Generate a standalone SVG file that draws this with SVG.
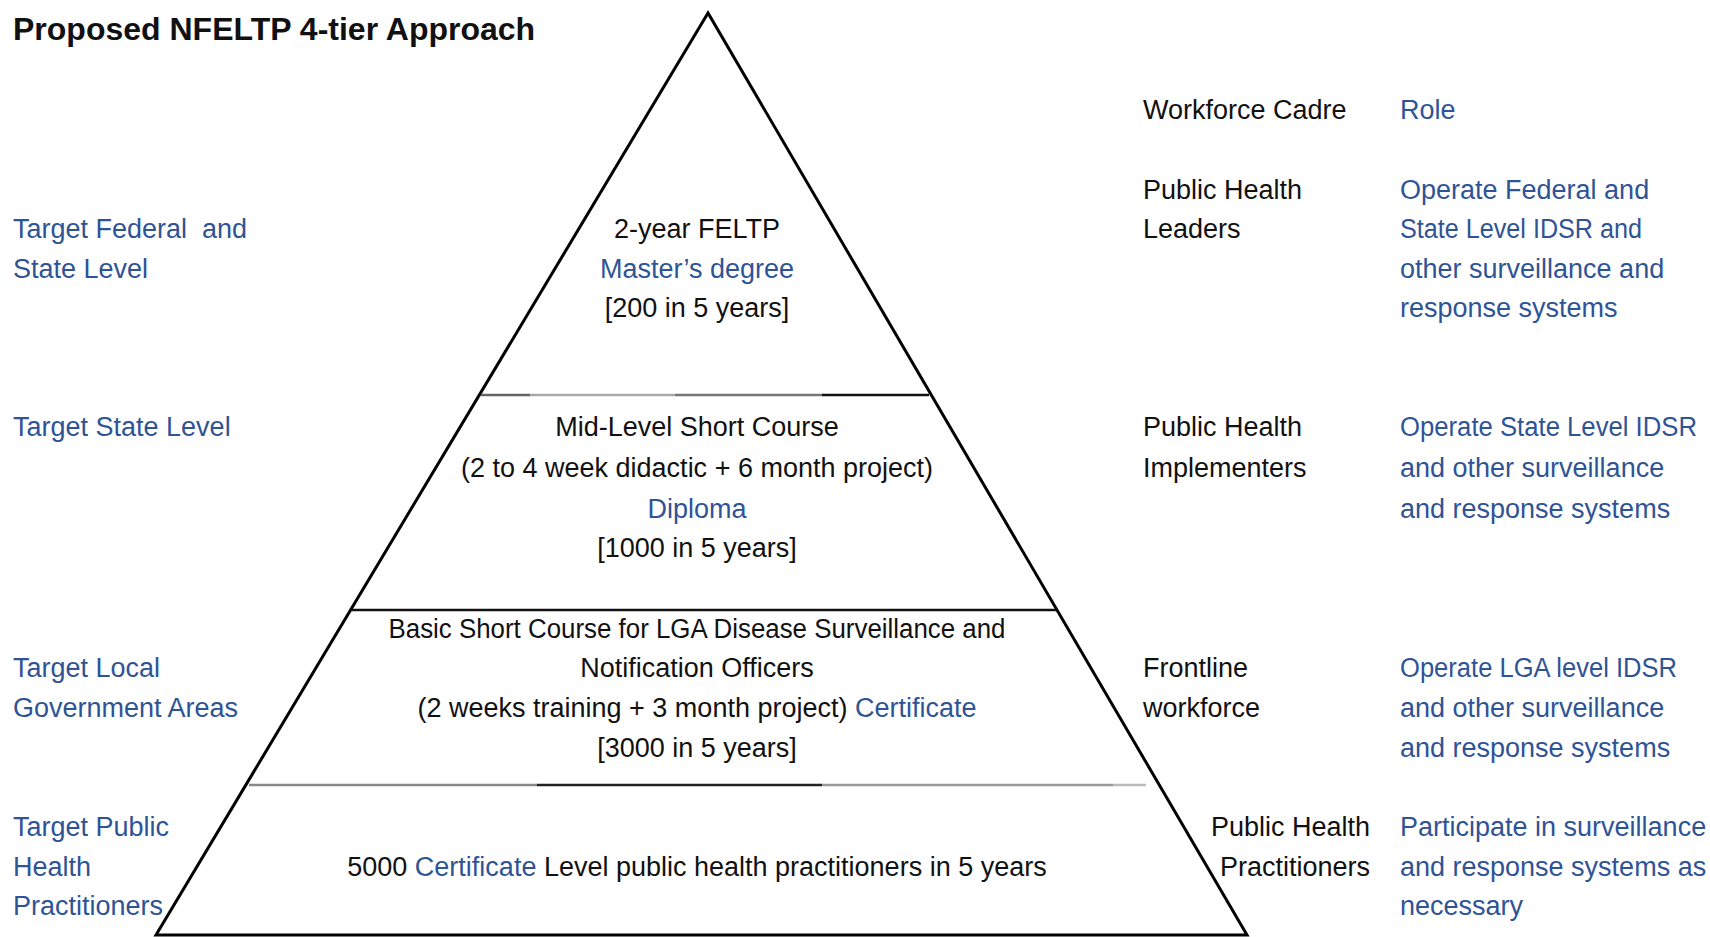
<svg xmlns="http://www.w3.org/2000/svg" width="1710" height="937" viewBox="0 0 1710 937">
<style>
text{font-family:"Liberation Sans",Arial,sans-serif;font-size:27px;fill:#111}
.b{fill:#2F5496}
.c{text-anchor:middle}
.e{text-anchor:end}
.t{font-weight:bold;font-size:32px}
.tri{fill:none;stroke:#000;stroke-width:3;stroke-linejoin:miter}
</style>
<rect width="1710" height="937" fill="#fff"/>
<text class="t" x="13" y="40">Proposed NFELTP 4-tier Approach</text>
<g id="pyramid">
<polygon class="tri" points="708,13 156,935 1247,935"/>
</g>
<g id="connectors">
<line x1="481" y1="395" x2="530" y2="395" stroke="#666" stroke-width="2.5"/>
<line x1="530" y1="395" x2="675" y2="395" stroke="#aaa" stroke-width="2.5"/>
<line x1="675" y1="395" x2="822" y2="395" stroke="#777" stroke-width="2.5"/>
<line x1="822" y1="395" x2="929" y2="395" stroke="#111" stroke-width="2.5"/>
<line x1="351" y1="610" x2="1057" y2="610" stroke="#111" stroke-width="2.5"/>
<line x1="249" y1="785" x2="537" y2="785" stroke="#888" stroke-width="2.5"/>
<line x1="537" y1="785" x2="822" y2="785" stroke="#222" stroke-width="2.5"/>
<line x1="822" y1="785" x2="1113" y2="785" stroke="#999" stroke-width="2.5"/>
<line x1="1113" y1="785" x2="1146" y2="785" stroke="#bbb" stroke-width="2.5"/>
</g>
<g id="tier1">
<text class="c" x="697" y="238">2-year FELTP</text>
<text class="c b" x="697" y="278">Master’s degree</text>
<text class="c" x="697" y="317">[200 in 5 years]</text>
</g>
<g id="tier2">
<text class="c" x="697" y="436">Mid-Level Short Course</text>
<text class="c" x="697" y="477">(2 to 4 week didactic + 6 month project)</text>
<text class="c b" x="697" y="518">Diploma</text>
<text class="c" x="697" y="557">[1000 in 5 years]</text>
</g>
<g id="tier3">
<text class="c" x="697" y="638" textLength="617" lengthAdjust="spacingAndGlyphs">Basic Short Course for LGA Disease Surveillance and</text>
<text class="c" x="697" y="677">Notification Officers</text>
<text class="c" x="697" y="717">(2 weeks training + 3 month project) <tspan class="b">Certificate</tspan></text>
<text class="c" x="697" y="757">[3000 in 5 years]</text>
</g>
<g id="tier4">
<text class="c" x="697" y="876">5000 <tspan class="b">Certificate</tspan> Level public health practitioners in 5 years</text>
</g>
<g id="targets">
<text class="b" x="13" y="238">Target Federal&#160; and</text>
<text class="b" x="13" y="278">State Level</text>
<text class="b" x="13" y="436">Target State Level</text>
<text class="b" x="13" y="677">Target Local</text>
<text class="b" x="13" y="717">Government Areas</text>
<text class="b" x="13" y="836">Target Public</text>
<text class="b" x="13" y="876">Health</text>
<text class="b" x="13" y="915">Practitioners</text>
</g>
<g id="header">
<text x="1143" y="119">Workforce Cadre</text>
<text class="b" x="1400" y="119">Role</text>
</g>
<g id="cadre-leaders">
<text x="1143" y="199">Public Health</text>
<text x="1143" y="238">Leaders</text>
<text class="b" x="1400" y="199">Operate Federal and</text>
<text class="b" x="1400" y="238" textLength="242" lengthAdjust="spacingAndGlyphs">State Level IDSR and</text>
<text class="b" x="1400" y="278">other surveillance and</text>
<text class="b" x="1400" y="317">response systems</text>
</g>
<g id="cadre-implementers">
<text x="1143" y="436">Public Health</text>
<text x="1143" y="477">Implementers</text>
<text class="b" x="1400" y="436" textLength="297" lengthAdjust="spacingAndGlyphs">Operate State Level IDSR</text>
<text class="b" x="1400" y="477">and other surveillance</text>
<text class="b" x="1400" y="518">and response systems</text>
</g>
<g id="cadre-frontline">
<text x="1143" y="677">Frontline</text>
<text x="1143" y="717">workforce</text>
<text class="b" x="1400" y="677" textLength="277" lengthAdjust="spacingAndGlyphs">Operate LGA level IDSR</text>
<text class="b" x="1400" y="717">and other surveillance</text>
<text class="b" x="1400" y="757">and response systems</text>
</g>
<g id="cadre-practitioners">
<text class="e" x="1370" y="836">Public Health</text>
<text class="e" x="1370" y="876">Practitioners</text>
<text class="b" x="1400" y="836">Participate in surveillance</text>
<text class="b" x="1400" y="876">and response systems as</text>
<text class="b" x="1400" y="915">necessary</text>
</g>
</svg>
